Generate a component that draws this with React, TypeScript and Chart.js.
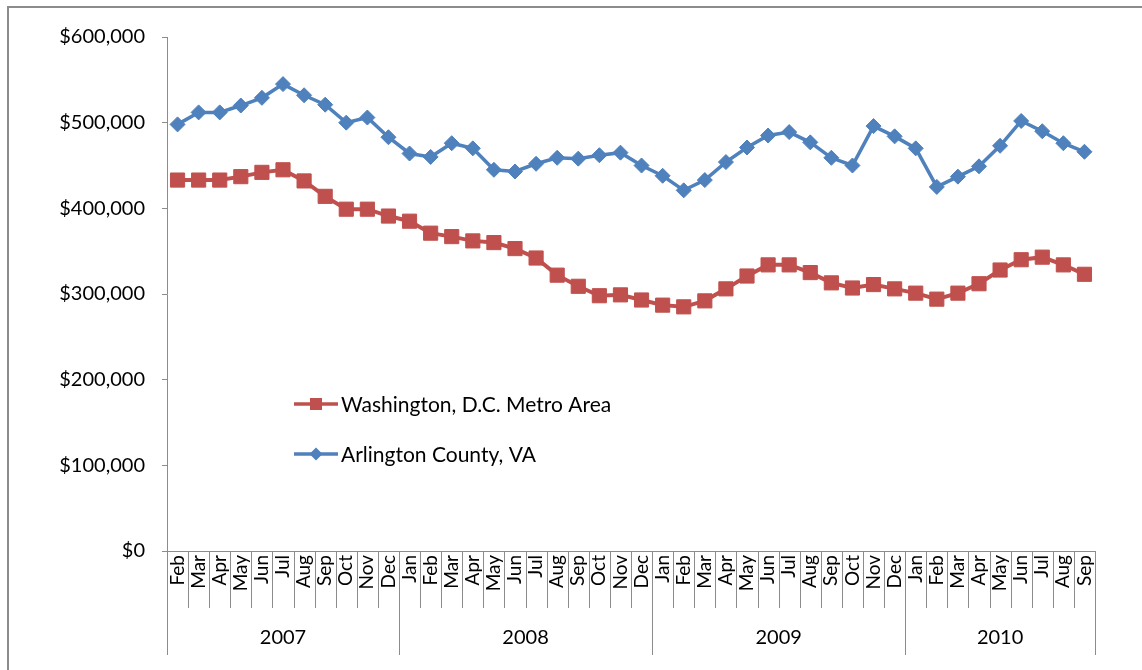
import React, { useEffect, useRef } from 'react';
import { Chart, registerables } from 'chart.js';

Chart.register(...registerables);

const MONTHS: string[] = [
  'Feb', 'Mar', 'Apr', 'May', 'Jun', 'Jul', 'Aug', 'Sep', 'Oct', 'Nov', 'Dec',
  'Jan', 'Feb', 'Mar', 'Apr', 'May', 'Jun', 'Jul', 'Aug', 'Sep', 'Oct', 'Nov', 'Dec',
  'Jan', 'Feb', 'Mar', 'Apr', 'May', 'Jun', 'Jul', 'Aug', 'Sep', 'Oct', 'Nov', 'Dec',
  'Jan', 'Feb', 'Mar', 'Apr', 'May', 'Jun', 'Jul', 'Aug', 'Sep',
];

const YEARS: string[] = ['2007', '2008', '2009', '2010'];
const YEAR_COUNTS: number[] = [11, 12, 12, 9];

const DC_METRO: number[] = [
  433000, 433000, 433000, 437000, 442000, 445000, 432000, 414000, 399000, 399000, 391000,
  385000, 371000, 367000, 362000, 360000, 353000, 342000, 322000, 309000, 298000, 299000, 293000,
  287000, 285000, 292000, 306000, 321000, 334000, 334000, 325000, 313000, 307000, 311000, 306000,
  301000, 294000, 301000, 312000, 328000, 340000, 343000, 334000, 323000,
];

const ARLINGTON: number[] = [
  498000, 512000, 512000, 520000, 529000, 545000, 532000, 521000, 500000, 506000, 483000,
  464000, 460000, 476000, 470000, 445000, 443000, 452000, 459000, 458000, 462000, 465000, 450000,
  438000, 421000, 433000, 454000, 471000, 485000, 489000, 477000, 459000, 450000, 496000, 484000,
  470000, 425000, 437000, 449000, 473000, 502000, 490000, 476000, 466000,
];

const Y_MIN = 0;
const Y_MAX = 600000;
const Y_STEP = 100000;

const SERIES_NAMES: string[] = ['Washington, D.C. Metro Area', 'Arlington County, VA'];

const RED = '#C0504D';
const BLUE = '#4F81BD';
const AXIS = '#8C8C8C';
const FONT = 'Lato, "Open Sans", sans-serif';

const decorPlugin = {
  id: 'decor',
  beforeDraw(chart: any) {
    const ctx = chart.ctx;
    ctx.save();
    ctx.fillStyle = '#ffffff';
    ctx.fillRect(0, 0, chart.width, chart.height);
    ctx.strokeStyle = AXIS;
    ctx.lineWidth = 2;
    ctx.strokeRect(8, 7, chart.width + 20, chart.height + 20);
    ctx.restore();
  },
  afterDraw(chart: any) {
    const ctx = chart.ctx;
    const xs = chart.scales.x;
    const bottom = chart.chartArea.bottom;
    const n = MONTHS.length;
    const half = (xs.getPixelForValue(1) - xs.getPixelForValue(0)) / 2;
    const boundary = (i: number) =>
      i < n ? xs.getPixelForValue(i) - half : xs.getPixelForValue(n - 1) + half;

    const yearStarts: number[] = [];
    let acc = 0;
    YEAR_COUNTS.forEach((c) => {
      yearStarts.push(acc);
      acc += c;
    });
    yearStarts.push(acc);

    ctx.save();
    ctx.strokeStyle = AXIS;
    ctx.lineWidth = 1;
    for (let i = 0; i <= n; i++) {
      const bx = Math.round(boundary(i)) + 0.5;
      const isYear = yearStarts.includes(i);
      ctx.beginPath();
      ctx.moveTo(bx, bottom);
      ctx.lineTo(bx, isYear ? bottom + 104 : bottom + 57);
      ctx.stroke();
    }

    ctx.fillStyle = '#000';
    ctx.font = `20px ${FONT}`;
    ctx.textAlign = 'center';
    ctx.textBaseline = 'middle';
    YEARS.forEach((y, k) => {
      const x0 = boundary(yearStarts[k]);
      const x1 = boundary(yearStarts[k + 1]);
      ctx.fillText(y, (x0 + x1) / 2, bottom + 87);
    });

    // legend
    const legendItems = [
      { name: SERIES_NAMES[0], color: RED, marker: 'square', y: 404 },
      { name: SERIES_NAMES[1], color: BLUE, marker: 'diamond', y: 454 },
    ];
    legendItems.forEach((it) => {
      ctx.strokeStyle = it.color;
      ctx.fillStyle = it.color;
      ctx.lineWidth = 3.5;
      ctx.beginPath();
      ctx.moveTo(294, it.y);
      ctx.lineTo(338, it.y);
      ctx.stroke();
      ctx.beginPath();
      if (it.marker === 'square') {
        ctx.rect(310, it.y - 6, 12, 12);
      } else {
        ctx.moveTo(316, it.y - 6.5);
        ctx.lineTo(322.5, it.y);
        ctx.lineTo(316, it.y + 6.5);
        ctx.lineTo(309.5, it.y);
        ctx.closePath();
      }
      ctx.fill();
      ctx.fillStyle = '#000';
      ctx.font = `21px ${FONT}`;
      ctx.textAlign = 'left';
      ctx.textBaseline = 'middle';
      ctx.fillText(it.name, 341, it.y + 1);
    });
    ctx.restore();
  },
};

export default function App() {
  const ref = useRef<HTMLCanvasElement | null>(null);

  useEffect(() => {
    if (!ref.current) return;
    const chart = new Chart(ref.current, {
      type: 'line',
      data: {
        labels: MONTHS,
        datasets: [
          {
            label: SERIES_NAMES[0],
            data: DC_METRO,
            borderColor: RED,
            backgroundColor: RED,
            borderWidth: 4,
            pointStyle: 'rect',
            pointRadius: 10,
            pointBorderWidth: 1,
            pointBackgroundColor: RED,
            pointBorderColor: RED,
            tension: 0,
          },
          {
            label: SERIES_NAMES[1],
            data: ARLINGTON,
            borderColor: BLUE,
            backgroundColor: BLUE,
            borderWidth: 3.5,
            pointStyle: 'rectRot',
            pointRadius: 7.5,
            pointBorderWidth: 1,
            pointBackgroundColor: BLUE,
            pointBorderColor: BLUE,
            tension: 0,
          },
        ],
      },
      options: {
        responsive: false,
        animation: false,
        layout: { padding: { left: 0, right: 47, top: 37, bottom: 0 } },
        plugins: {
          legend: { display: false },
          tooltip: { enabled: false },
          title: { display: false },
        },
        scales: {
          x: {
            type: 'category',
            offset: true,
            grid: { display: false, drawTicks: false, drawOnChartArea: false },
            border: { display: true, color: AXIS, width: 1 },
            ticks: {
              autoSkip: false,
              minRotation: 90,
              maxRotation: 90,
              padding: 4,
              color: '#000',
              font: { family: FONT, size: 19 },
            },
            afterFit: (s: any) => {
              s.height = 119;
            },
          },
          y: {
            min: Y_MIN,
            max: Y_MAX,
            grid: {
              display: true,
              drawOnChartArea: false,
              drawTicks: true,
              tickLength: 5,
              color: AXIS,
            },
            border: { display: true, color: AXIS, width: 1 },
            ticks: {
              stepSize: Y_STEP,
              padding: 17,
              color: '#000',
              font: { family: FONT, size: 20 },
              callback: (v: any) => '$' + Number(v).toLocaleString('en-US'),
            },
            afterFit: (s: any) => {
              s.width = 167;
            },
          },
        },
      },
      plugins: [decorPlugin],
    });
    return () => chart.destroy();
  }, []);

  return (
    <div style={{ position: 'fixed', left: 0, top: 0, width: 1142, height: 670, background: '#fff' }}>
      <canvas ref={ref} width={1142} height={670} style={{ display: 'block' }} />
    </div>
  );
}
